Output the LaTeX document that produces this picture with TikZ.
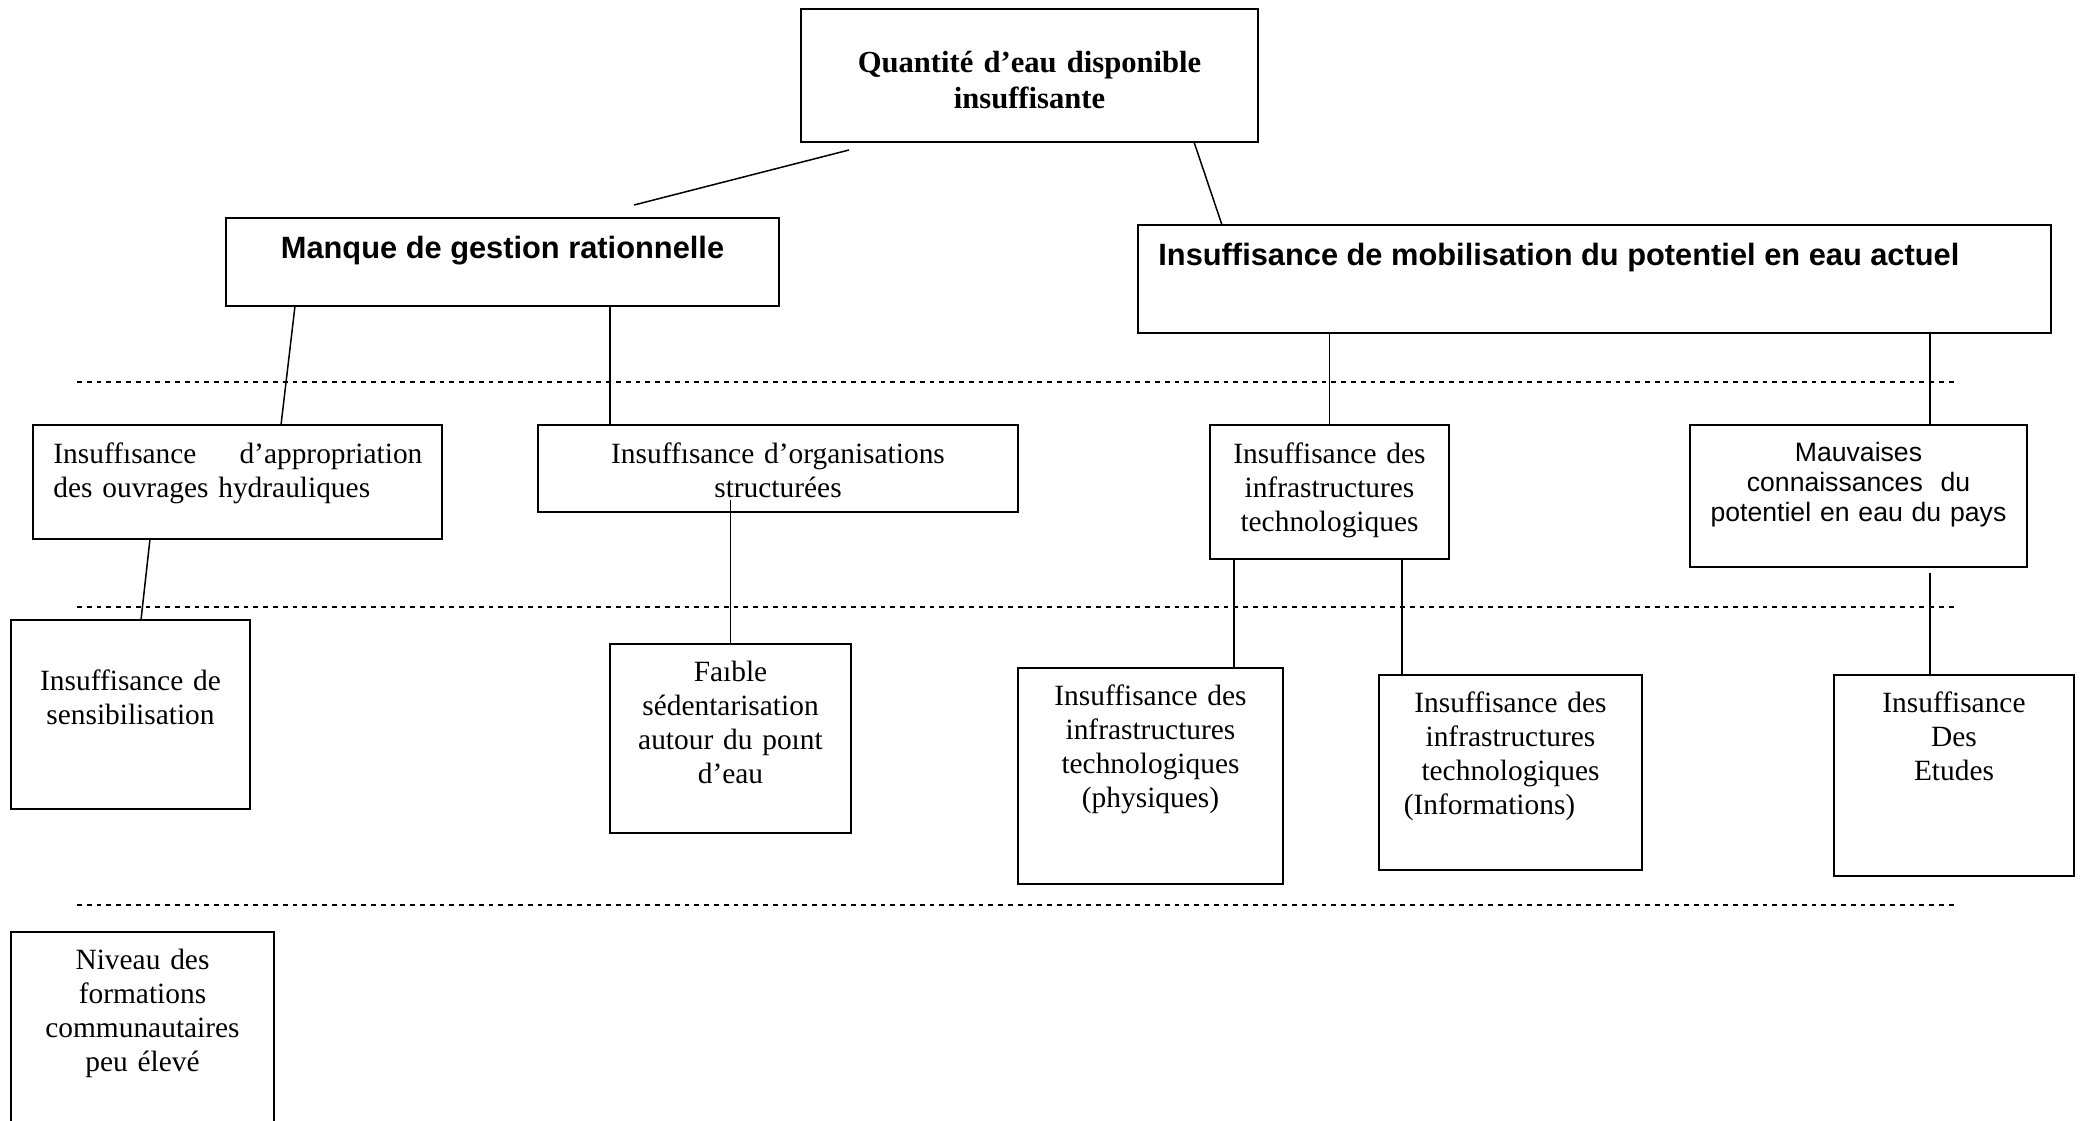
\documentclass[tikz,border=0pt]{standalone}
\usepackage{fontspec}
\setmainfont{Liberation Serif}
\setsansfont{Liberation Sans}
\usetikzlibrary{positioning, calc}
\tikzset{
  box/.style 2 args={
    draw, line width=1pt, anchor=north west,
    inner sep=0pt, outer sep=0pt,
    minimum width=#1*0.5pt, minimum height=#2*0.5pt,
  },
  txt/.style={
    align=center, inner sep=0pt, anchor=base, text width=#1,
    font=\fontsize{14.7}{17}\selectfont,
  },
  txt/.default=115pt,
  title/.style={txt=220pt, font=\bfseries\fontsize{15.3}{18}\selectfont},
  sans/.style={txt=165pt, font=\sffamily\fontsize{13.3}{15}\selectfont},
  hd/.style={inner sep=0pt, font=\sffamily\bfseries\fontsize{15.4}{18}\selectfont},
  link/.style={line width=0.75pt},
  level/.style={line width=1pt, dash pattern=on 2.4pt off 2.5pt}
}

\begin{document}
\begin{tikzpicture}[x=0.5pt, y=-0.5pt]
  \useasboundingbox (0,0) rectangle (2087,1120);

  % levels
  \foreach \y in {382,607,905}
    \draw[level] (77,\y) -- (1954,\y);

  % boxes
  \node[box={457}{133}] (top) at (801,9) {};
  \node[box={553}{88}] (manque) at (226,218) {};
  \node[box={913}{108}] (mobil) at (1138,225) {};
  \node[box={409}{114}] (approp) at (33,425) {};
  \node[box={480}{87}] (organ) at (538,425) {};
  \node[box={239}{134}] (infra) at (1210,425) {};
  \node[box={337}{142}] (mauv) at (1690,425) {};
  \node[box={239}{189}] (sensib) at (11,620) {};
  \node[box={241}{189}] (faible) at (610,644) {};
  \node[box={265}{216}] (phys) at (1018,668) {};
  \node[box={263}{195}] (inform) at (1379,675) {};
  \node[box={240}{201}] (etudes) at (1834,675) {};
  \node[box={263}{200}] (niveau) at (11,932) {};

  % texts
  \node[title] (top-t) at ($(top.north)+(0,63)$) {Quantité d’eau disponible\\insuffisante};
  \node[hd, anchor=base] (manque-t) at ($(manque.north)+(0,40)$) {Manque de gestion rationnelle};
  \node[hd, anchor=base west] (mobil-t) at ($(mobil.north west)+(20,40)$) {Insuffisance de mobilisation du potentiel en eau actuel};
  \node[txt=184.5pt, anchor=base west, align=left] (approp-t) at ($(approp.north west)+(20,38)$) {Insuffısance\hfill d’appropriation\\des ouvrages hydrauliques};
  \node[txt=230pt] (organ-t) at ($(organ.north)+(0,38)$) {Insuffısance d’organisations\\structurées};
  \node[txt] (infra-t) at ($(infra.north)+(0,38)$) {Insuffisance des\\infrastructures\\technologiques};
  \node[sans] (mauv-t) at ($(mauv.north)+(0,36)$) {Mauvaises\\connaissances\ \ du\\potentiel en eau du pays};
  \node[txt] (sensib-t) at ($(sensib.north)+(0,70)$) {Insuffisance de\\sensibilisation};
  \node[txt] (faible-t) at ($(faible.north)+(0,37)$) {Faıble\\sédentarisation\\autour du poınt\\d’eau};
  \node[txt=128pt] (phys-t) at ($(phys.north)+(0,37)$) {Insuffisance des\\infrastructures\\technologiques\\(physiques)};
  \node[txt=128pt] (inform-t) at ($(inform.north)+(0,37)$) {Insuffisance des\\infrastructures\\technologiques\\\hspace*{-21pt}(Informations)};
  \node[txt] (etudes-t) at ($(etudes.north)+(0,37)$) {Insuffisance\\Des\\Etudes};
  \node[txt=128pt] (niveau-t) at ($(niveau.north)+(0,37)$) {Niveau des\\formations\\communautaires\\peu élevé};

  % links
  \coordinate (gap-a) at (849,150);
  \coordinate (gap-b) at (634,205);
  \draw[link] (gap-a) -- (gap-b);
  \draw[link] ($(top.south west)+(393,0)$) -- ($(mobil.north west)+(84,0)$);
  \draw[link] ($(manque.south west)+(69,0)$) -- ($(approp.north west)+(248,0)$);
  \draw[link] ($(manque.south west)+(384,0)$) -- ($(organ.north west)+(72,0)$);
  \draw[link] (infra.north |- mobil.south) -- (infra.north);
  \draw[link] ($(mobil.south west)+(792,0)$) -- ($(mauv.north west)+(240,0)$);
  \draw[link] ($(approp.south west)+(117,0)$) -- ($(sensib.north west)+(130,0)$);
  \draw[link] ($(faible.north |- organ.south)+(0,-12)$) -- (faible.north);
  \draw[link] ($(infra.south west)+(24,0)$) -- ($(phys.north west)+(216,0)$);
  \draw[link] ($(infra.south west)+(192,0)$) -- ($(inform.north west)+(23,0)$);
  \draw[link] ($(mauv.south west)+(240,6)$) -- ($(etudes.north west)+(96,0)$);
\end{tikzpicture}
\end{document}
